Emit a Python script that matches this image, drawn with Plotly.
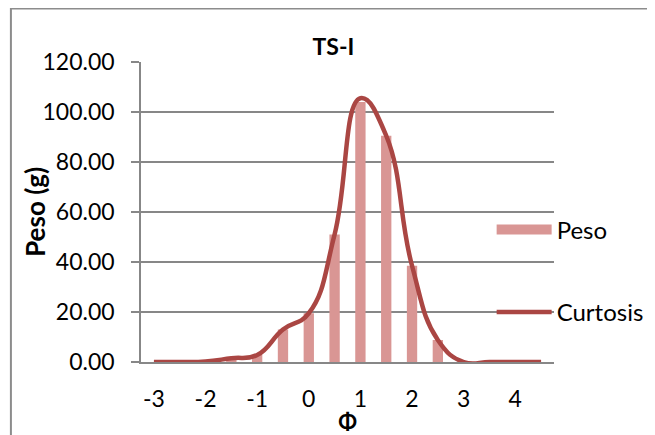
import plotly.graph_objects as go

# Grain-size classes (phi) and retained weight
phi = [-3, -2.5, -2, -1.5, -1, -0.5, 0, 0.5, 1, 1.5, 2, 2.5, 3, 3.5, 4, 4.5]
peso = [0, 0, 0.2, 1.5, 2.8, 13, 19.5, 51, 104, 90.5, 38.5, 8.8, 0, 0, 0, 0]
curtosis = [0, 0, 0.2, 1.5, 2.8, 13, 19.5, 51, 105.5, 90.5, 38.5, 8.8, 0, 0, 0, 0]

x_ticks = [-3, -2, -1, 0, 1, 2, 3, 4]
y_ticks = [0, 20, 40, 60, 80, 100, 120]

FONT = "Lato"
BAR_COLOR = "#D99694"
LINE_COLOR = "#AA4643"
GRID = "#878787"

fig = go.Figure()

# Bars (legend entry drawn by the proxy trace below)
fig.add_trace(go.Bar(
    x=phi, y=peso, width=0.2, marker=dict(color=BAR_COLOR, line_width=0),
    showlegend=False, name="Peso"
))

# Proxy entry so the legend swatch is a wide block like the original
fig.add_trace(go.Scatter(
    x=[None], y=[None], mode="lines", name="Peso",
    line=dict(color=BAR_COLOR, width=14), legend="legend"
))

fig.add_trace(go.Scatter(
    x=phi, y=curtosis, mode="lines", name="Curtosis",
    line=dict(color=LINE_COLOR, width=4.5, shape="spline", smoothing=1.3),
    legend="legend2"
))

# Outer chart border
fig.add_shape(
    type="rect", xref="paper", yref="paper",
    x0=-0.315, x1=1.232, y0=-0.3, y1=1.178,
    line=dict(color="#8C8C8C", width=2), fillcolor="rgba(0,0,0,0)", layer="above"
)

# y-axis title placed by hand (it sits closer to the ticks than standoff allows)
fig.add_annotation(
    text="<b>Peso (g)</b>", xref="paper", yref="paper",
    x=-0.257, y=0.5, xanchor="center", yanchor="middle",
    textangle=-90, showarrow=False, font=dict(size=26)
)

# page body has an 8px margin, so the figure is laid out 8px smaller
fig.update_layout(
    width=647,
    height=427,
    margin=dict(l=133, r=101, t=54, b=73, autoexpand=False),
    plot_bgcolor="white",
    paper_bgcolor="white",
    font=dict(family=FONT, size=23, color="black"),
    title=dict(
        text="<b>TS-I</b>", x=0.466, xref="paper", xanchor="center",
        y=0.909, yanchor="middle", font=dict(size=23)
    ),
    xaxis=dict(
        range=[-3.25, 4.75],
        tickvals=x_ticks,
        ticktext=[str(v) for v in x_ticks],
        ticks="",
        showgrid=False,
        zeroline=False,
        showline=True, linecolor=GRID, linewidth=1.5,
        ticklabelstandoff=16,
        automargin=False,
        title=dict(text="<b>Φ</b>", standoff=0, font=dict(size=22)),
    ),
    yaxis=dict(
        range=[0, 120],
        tickvals=y_ticks,
        tickformat=".2f",
        ticks="outside", ticklen=8, tickcolor=GRID, tickwidth=1.5,
        showgrid=True, gridcolor=GRID, gridwidth=1.5,
        zeroline=False,
        showline=True, linecolor=GRID, linewidth=1.5,
        ticklabelstandoff=12,
        automargin=False,
    ),
    legend=dict(x=0.849, y=0.44, xanchor="left", yanchor="middle",
                bgcolor="rgba(0,0,0,0)", itemwidth=55, font=dict(size=24)),
    legend2=dict(x=0.849, y=0.165, xanchor="left", yanchor="middle",
                 bgcolor="rgba(0,0,0,0)", itemwidth=55, font=dict(size=24)),
)

fig.write_html("out.html")
